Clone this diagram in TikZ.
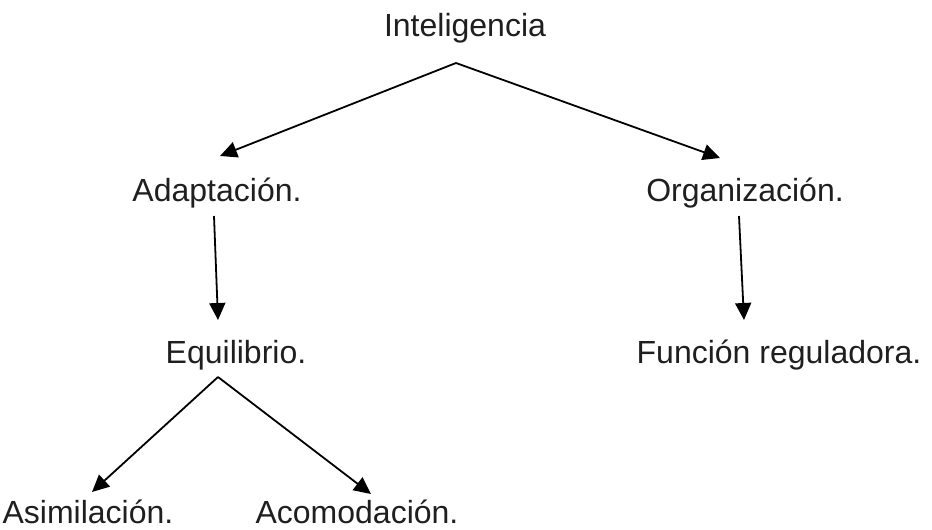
\documentclass[tikz,border=0pt]{standalone}
\usepackage{fontspec}
\setmainfont{Liberation Sans}
\usetikzlibrary{arrows.meta}
\begin{document}
\begin{tikzpicture}[x=1pt,y=-1pt,
  lbl/.style={anchor=base,inner sep=0pt,text=black!88,font=\fontsize{32}{36}\selectfont},
  conn/.style={line width=1.8pt,-{Triangle[length=17pt,width=16pt]}}]
\useasboundingbox (0,0) rectangle (932,530);
\node[lbl] (intel) at (465,36) {Inteligencia};
\node[lbl] (adap) at (217,201) {Adaptación.};
\node[lbl] (org) at (745,201) {Organización.};
\node[lbl] (equi) at (236,363) {Equilibrio.};
\node[lbl] (func) at (779,363) {Función reguladora.};
\node[lbl] (asim) at (88,523) {Asimilación.};
\node[lbl] (acom) at (357,523) {Acomodación.};
\coordinate (a1) at (456,63);
\coordinate (t1) at (220,156);
\coordinate (t2) at (720,158);
\coordinate (s3) at (214,216);
\coordinate (t3) at (218,320);
\coordinate (s4) at (739,216);
\coordinate (t4) at (744,320);
\coordinate (a2) at (218,377);
\coordinate (t5) at (92,492);
\coordinate (t6) at (371,494);
\draw[conn] (a1) -- (t1);
\draw[conn] (a1) -- (t2);
\draw[conn] (s3) -- (t3);
\draw[conn] (s4) -- (t4);
\draw[conn] (a2) -- (t5);
\draw[conn] (a2) -- (t6);
\end{tikzpicture}
\end{document}
